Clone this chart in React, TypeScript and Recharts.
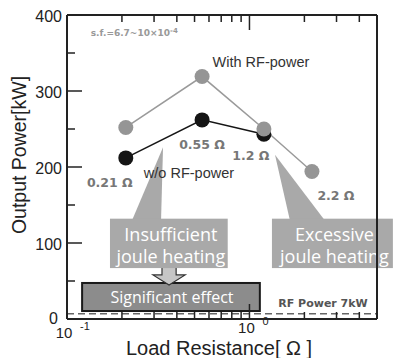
import {
  ComposedChart, Line, XAxis, YAxis, ReferenceLine, ReferenceArea, ReferenceDot, LabelList,
} from 'recharts';

// Load resistance [Ω] and output power [kW]
const resistance = [0.21, 0.55, 1.2, 2.2];
const withRfPower = [252, 319, 250, 194];
const withoutRfPower = [212, 262, 243, null];
const resistanceLabels = ['0.21 Ω', '0.55 Ω', '1.2 Ω', '2.2 Ω'];

const xTicks = [0.1, 0.2, 0.3, 0.4, 0.5, 0.6, 0.7, 0.8, 0.9, 1, 2, 3, 4, 5];
const yTicks = [0, 50, 100, 150, 200, 250, 300, 350, 400];
const rfPowerLevel = 7;

const rows = resistance.map((r, i) => ({
  r,
  withRf: withRfPower[i],
  withoutRf: withoutRfPower[i],
  label: resistanceLabels[i],
}));

const AXIS = '#222';
const SANS = '"Liberation Sans", Arial, sans-serif';
const CALLOUT = '"Open Sans", sans-serif';
const BOLD = '"DejaVu Sans", Verdana, sans-serif';

// label offsets relative to the gray points
const labelShift = [[-16, 55], [0, 68], [-13, 26], [24, 24]];

function BottomTick({ x, y, payload }: any) {
  const v = payload.value;
  const major = v === 0.1 || v === 1;
  const base = v === 1 ? y + 14 : y + 19;
  return (
    <g>
      <line x1={x} x2={x} y1={y} y2={y - (v === 1 ? 15 : 7)} stroke={AXIS} strokeWidth={1.5} />
      {major && (
        <>
          <text x={x - 3} y={base} textAnchor="middle" fontSize={15} fontFamily={SANS} fill="#222">10</text>
          <text x={x + 13} y={base - 8} fontSize={11} fontFamily={SANS} fill="#222">{Math.round(Math.log10(v))}</text>
        </>
      )}
    </g>
  );
}

function TopTick({ x, y, payload }: any) {
  const v = payload.value;
  return <line x1={x} x2={x} y1={y} y2={y + (v === 1 ? 15 : 7)} stroke={AXIS} strokeWidth={1.5} />;
}

function LeftTick({ x, y, payload }: any) {
  const v = payload.value;
  const major = v % 100 === 0;
  return (
    <g>
      <line x1={x} x2={x + (major ? 15 : 8)} y1={y} y2={y} stroke={AXIS} strokeWidth={1.5} />
      {major && (
        <text x={v === 0 ? x - 9 : x - 5} y={y + (v === 0 ? 5 : 7)} textAnchor="end" fontSize={16} fontFamily={SANS} fill="#222">{v}</text>
      )}
    </g>
  );
}

function RightTick({ x, y, payload }: any) {
  const major = payload.value % 100 === 0;
  return <line x1={x} x2={x - (major ? 15 : 7)} y1={y} y2={y} stroke={AXIS} strokeWidth={1.5} />;
}

function Callout({ x, y, width, height, lines }: any) {
  return (
    <g>
      <rect x={x} y={y} width={width} height={height} fill="#a9a9a9" />
      {lines.map((t: string, i: number) => (
        <text key={t} x={x + width / 2 + 2} y={y + height / 2 + (i - 0.5) * 22 + 8.5}
          textAnchor="middle" fontSize={18} fontFamily={CALLOUT} fill="#fff">{t}</text>
      ))}
    </g>
  );
}

function WedgeLeft({ x, y, width, height }: any) {
  const pts = `${x},${y + height + 1} ${x + width - 2},${y + height + 1} ${x + width},${y}`;
  return <polygon points={pts} fill="#a9a9a9" />;
}

function WedgeRight({ x, y, width, height }: any) {
  const pts = `${x},${y} ${x + width * 0.3},${y + height + 1} ${x + width},${y + height + 1}`;
  return <polygon points={pts} fill="#a9a9a9" />;
}

function DownArrow({ x, y, width: w, height: h }: any) {
  const m = y + h * 0.47;
  const pts = [
    [x + 0.28 * w, y], [x + 0.72 * w, y], [x + 0.72 * w, m], [x + w, m],
    [x + w / 2, y + h], [x, m], [x + 0.28 * w, m],
  ].map((p) => p.join(',')).join(' ');
  return <polygon points={pts} fill="#c6c6c6" stroke="#333" strokeWidth={1.2} />;
}

function EffectBox({ x, y, width, height }: any) {
  return (
    <g>
      <rect x={x} y={y} width={width} height={height} fill="#8c8c8c" stroke="#1a1a1a" strokeWidth={2} />
      <text x={x + width / 2 + 1} y={y + height / 2 + 6} textAnchor="middle" fontSize={16} fontFamily={CALLOUT} fill="#fff">
        Significant effect
      </text>
    </g>
  );
}

function note(text: any, opts: any = {}) {
  return ({ cx, cy }: any) => (
    <text x={cx} y={cy + (opts.dy ?? 5)} textAnchor={opts.anchor ?? 'middle'} fontSize={opts.size ?? 14.5}
      fontFamily={opts.font ?? SANS} fontWeight={opts.weight ?? 'normal'} fill={opts.color ?? '#333'}>
      {text}
    </text>
  );
}

export default function App() {
  return (
    <div style={{ position: 'absolute', left: 0, top: 0, background: '#fff' }}>
      <ComposedChart width={394} height={358} data={rows} margin={{ top: 14, right: 16, bottom: 38, left: 66 }}>
        <XAxis xAxisId="b" dataKey="r" type="number" scale="log" domain={[0.1, 5]} allowDataOverflow
          ticks={xTicks} interval={0} height={1} tickSize={0} tickMargin={0} tick={<BottomTick />}
          axisLine={{ stroke: AXIS, strokeWidth: 2 }}
          label={{
            content: ({ viewBox }: any) => (
              <text x={viewBox.x + viewBox.width / 2 - 3} y={viewBox.y + 36} textAnchor="middle" fontSize={20} fontFamily={SANS} fill="#222">
                Load Resistance[ Ω ]
              </text>
            ),
          }} />
        <XAxis xAxisId="t" orientation="top" dataKey="r" type="number" scale="log" domain={[0.1, 5]} allowDataOverflow
          ticks={xTicks} interval={0} height={1} tickSize={0} tickMargin={0} tick={<TopTick />}
          axisLine={{ stroke: AXIS, strokeWidth: 2 }} />
        <YAxis yAxisId="l" type="number" domain={[0, 400]} ticks={yTicks} interval={0} width={1}
          tickSize={0} tickMargin={0} tick={<LeftTick />} axisLine={{ stroke: AXIS, strokeWidth: 2 }}
          label={{
            content: ({ viewBox }: any) => {
              const cx = viewBox.x - 47;
              const cy = viewBox.y + viewBox.height / 2 - 12;
              return (
                <text x={cx} y={cy} transform={`rotate(-90 ${cx} ${cy})`} textAnchor="middle" dominantBaseline="central"
                  fontSize={19.5} fontFamily={SANS} fill="#222">
                  Output Power[kW]
                </text>
              );
            },
          }} />
        <YAxis yAxisId="r" orientation="right" type="number" domain={[0, 400]} ticks={yTicks} interval={0} width={1}
          tickSize={0} tickMargin={0} tick={<RightTick />} axisLine={{ stroke: AXIS, strokeWidth: 2 }} />

        <ReferenceLine xAxisId="b" yAxisId="l" y={rfPowerLevel} stroke="#666" strokeWidth={1.5} strokeDasharray="7 4" />

        <ReferenceArea xAxisId="b" yAxisId="l" x1={0.121} x2={1.14} y1={10.5} y2={47.4} ifOverflow="visible" shape={<EffectBox />} />
        <ReferenceArea xAxisId="b" yAxisId="l" x1={0.296} x2={0.444} y1={44.7} y2={69.7} ifOverflow="visible" shape={<DownArrow />} />
        <ReferenceArea xAxisId="b" yAxisId="l" x1={0.227} x2={0.336} y1={131} y2={226} ifOverflow="visible" shape={<WedgeLeft />} />
        <ReferenceArea xAxisId="b" yAxisId="l" x1={0.172} x2={0.76} y1={67} y2={132} ifOverflow="visible"
          shape={<Callout lines={['Insufficient', 'joule heating']} />} />
        <ReferenceArea xAxisId="b" yAxisId="l" x1={1.38} x2={2.59} y1={131} y2={216} ifOverflow="visible" shape={<WedgeRight />} />
        <ReferenceArea xAxisId="b" yAxisId="l" x1={1.328} x2={6.11} y1={67} y2={132} ifOverflow="visible"
          shape={<Callout lines={['Excessive', 'joule heating']} />} />

        <Line xAxisId="b" yAxisId="l" dataKey="withoutRf" stroke="#151515" strokeWidth={1.5} isAnimationActive={false}
          dot={{ r: 7.5, fill: '#151515', strokeWidth: 0 }} activeDot={false} />
        <Line xAxisId="b" yAxisId="l" dataKey="withRf" stroke="#9a9a9a" strokeWidth={1.5} isAnimationActive={false}
          dot={{ r: 7.5, fill: '#959595', strokeWidth: 0 }} activeDot={false}>
          <LabelList dataKey="label" content={({ x, y, value, index }: any) => {
            const [dx, dy] = labelShift[index] ?? [0, 0];
            return (
              <text x={x + dx} y={y + dy + 4.5} textAnchor="middle" fontSize={12.5} fontWeight="bold" fontFamily={BOLD} fill="#777">
                {value}
              </text>
            );
          }} />
        </Line>

        <ReferenceDot xAxisId="b" yAxisId="l" x={1.156} y={338} r={1} ifOverflow="visible" shape={note('With RF-power')} />
        <ReferenceDot xAxisId="b" yAxisId="l" x={0.466} y={192} r={1} ifOverflow="visible" shape={note('w/o RF-power')} />
        <ReferenceDot xAxisId="b" yAxisId="l" x={2.53} y={21} r={1} ifOverflow="visible"
          shape={note('RF Power 7kW', { size: 11, weight: 'bold', font: BOLD, color: '#555', dy: 4 })} />
        <ReferenceDot xAxisId="b" yAxisId="l" x={0.135} y={376} r={1} ifOverflow="visible"
          shape={note(<>s.f.=6.7~10×10<tspan dy={-3} fontSize={7}>-4</tspan></>, { size: 9, weight: 'bold', font: BOLD, color: '#999', anchor: 'start', dy: 3 })} />
      </ComposedChart>
    </div>
  );
}
